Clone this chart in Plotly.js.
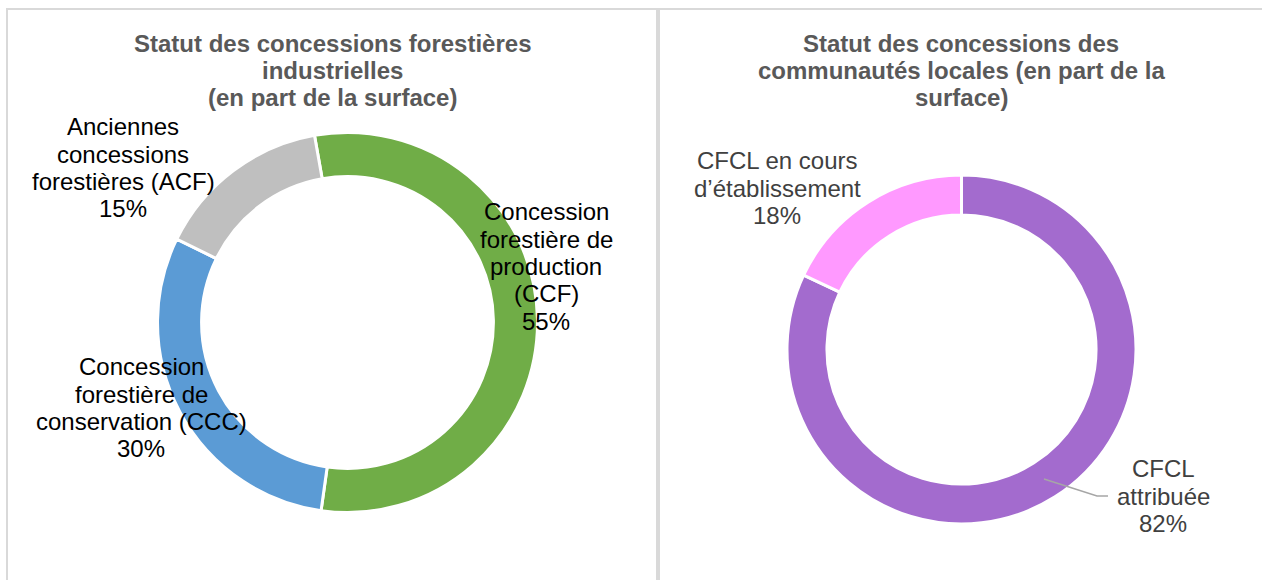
<!DOCTYPE html>
<html>
<head>
<meta charset="utf-8">
<script src="https://cdn.plot.ly/plotly-3.0.1.min.js"></script>
<style>html,body{margin:0;padding:0;background:#fff;}#chart{width:1262px;height:580px;}</style>
</head>
<body>
<div id="chart"></div>
<script>
// ---- Data ----
var industCategories = ["Concession forestière de production (CCF)", "Concession forestière de conservation (CCC)", "Anciennes concessions forestières (ACF)"];
var industValues = [55, 30, 15];
var industColors = ["#70ad47", "#5b9bd5", "#bfbfbf"];
var industLabelLines = [
  ["Concession", "forestière de", "production", "(CCF)"],
  ["Concession", "forestière de", "conservation (CCC)"],
  ["Anciennes", "concessions", "forestières (ACF)"]
];

var localCategories = ["CFCL attribuée", "CFCL en cours d’établissement"];
var localValues = [82, 18];
var localColors = ["#a36bce", "#ff99ff"];
var localLabelLines = [
  ["CFCL", "attribuée"],
  ["CFCL en cours", "d’établissement"]
];

var titleLeftLines = ["Statut des concessions forestières", "industrielles", "(en part de la surface)"];
var titleRightLines = ["Statut des concessions des", "communautés locales (en part de la", "surface)"];

// ---- Layout helpers (pixel -> paper) ----
var W = 1262, H = 580;
function px(x){ return x / W; }
function py(y){ return 1 - y / H; }
function pct(v, arr){ var s = arr.reduce(function(a,b){return a+b;},0); return Math.round(100*v/s) + "%"; }

var FONT = "Liberation Sans, Arial, sans-serif";
var annotations = [];
function addLines(lines, cx, firstBaseline, spacing, size, color, bold){
  lines.forEach(function(t, i){
    var base = firstBaseline + i * spacing;
    annotations.push({
      xref: "paper", yref: "paper",
      x: px(cx), y: py(base - 0.35 * size),
      xanchor: "center", yanchor: "middle",
      text: bold ? "<b>" + t + "</b>" : t,
      showarrow: false,
      font: {family: FONT, size: size, color: color}
    });
  });
}

// Titles
addLines(titleLeftLines, 332, 52, 27, 24, "#595959", true);
addLines(titleRightLines, 961, 52, 27, 24, "#595959", true);

// Left labels
var LS = 24, SP = 27.4;
addLines(industLabelLines[0].concat([pct(industValues[0], industValues)]), 546, 220, SP, LS, "#000000", false);
addLines(industLabelLines[1].concat([pct(industValues[1], industValues)]), 141, 375, SP, LS, "#000000", false);
addLines(industLabelLines[2].concat([pct(industValues[2], industValues)]), 123, 135, SP, LS, "#000000", false);

// Right labels
addLines(localLabelLines[0].concat([pct(localValues[0], localValues)]), 1163, 477, SP, LS, "#404040", false);
addLines(localLabelLines[1].concat([pct(localValues[1], localValues)]), 777, 169, SP, LS, "#404040", false);

// Donut geometry (pixels)
var L = {cx: 347.5, cy: 322.5, r: 190};
var R = {cx: 961.5, cy: 349.5, r: 174.5};

var traces = [
  {
    type: "pie",
    labels: industCategories,
    values: industValues,
    marker: {colors: industColors, line: {color: "#ffffff", width: 3}},
    hole: 0.768,
    sort: false,
    direction: "clockwise",
    rotation: -10,
    textinfo: "none",
    hoverinfo: "label+percent",
    showlegend: false,
    domain: {x: [px(L.cx - L.r), px(L.cx + L.r)], y: [py(L.cy + L.r), py(L.cy - L.r)]}
  },
  {
    type: "pie",
    labels: localCategories,
    values: localValues,
    marker: {colors: localColors, line: {color: "#ffffff", width: 3}},
    hole: 0.771,
    sort: false,
    direction: "clockwise",
    rotation: 0,
    textinfo: "none",
    hoverinfo: "label+percent",
    showlegend: false,
    domain: {x: [px(R.cx - R.r), px(R.cx + R.r)], y: [py(R.cy + R.r), py(R.cy - R.r)]}
  }
];

var border = "#d9d9d9";
var shapes = [
  {type: "line", xref: "paper", yref: "paper", x0: px(6), x1: 1, y0: py(9), y1: py(9), line: {color: border, width: 2}},
  {type: "line", xref: "paper", yref: "paper", x0: px(7), x1: px(7), y0: py(8), y1: 0, line: {color: border, width: 2}},
  {type: "line", xref: "paper", yref: "paper", x0: px(658), x1: px(658), y0: py(8), y1: 0, line: {color: border, width: 4}},
  {type: "path", xref: "paper", yref: "paper",
   path: "M " + px(1044) + "," + py(479) + " L " + px(1097) + "," + py(496) + " L " + px(1108) + "," + py(496),
   line: {color: "#a6a6a6", width: 1.5}}
];

var layout = {
  width: W, height: H,
  margin: {l: 0, r: 0, t: 0, b: 0},
  paper_bgcolor: "#ffffff",
  font: {family: FONT},
  annotations: annotations,
  shapes: shapes
};

Plotly.newPlot("chart", traces, layout, {displayModeBar: false, staticPlot: true});
</script>
</body>
</html>
